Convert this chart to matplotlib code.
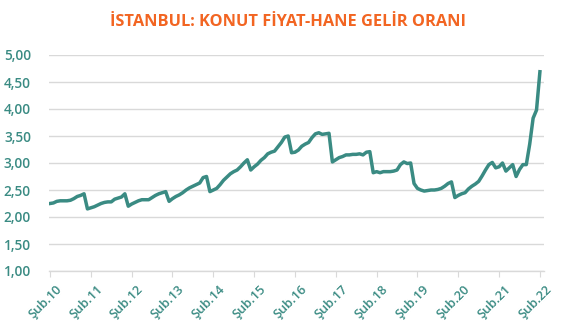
import matplotlib
matplotlib.use("Agg")
import matplotlib.pyplot as plt
import matplotlib.transforms as mtrans
from matplotlib.ticker import FuncFormatter

# Monthly ratio, Şub.2010 .. Şub.2022
ratio = [
    2.25, 2.26, 2.29, 2.30, 2.30, 2.30, 2.31, 2.34, 2.38, 2.40, 2.43,          # 2010 Feb-Dec
    2.15, 2.17, 2.19, 2.22, 2.25, 2.27, 2.28, 2.28, 2.33, 2.35, 2.37, 2.43,    # 2011
    2.20, 2.24, 2.27, 2.30, 2.32, 2.32, 2.32, 2.36, 2.40, 2.43, 2.45, 2.47,    # 2012
    2.29, 2.34, 2.38, 2.41, 2.45, 2.50, 2.54, 2.57, 2.60, 2.63, 2.73, 2.75,    # 2013
    2.47, 2.50, 2.53, 2.60, 2.68, 2.74, 2.80, 2.84, 2.87, 2.93, 3.00, 3.06,    # 2014
    2.87, 2.93, 2.98, 3.05, 3.10, 3.17, 3.20, 3.22, 3.30, 3.38, 3.48, 3.50,    # 2015
    3.19, 3.20, 3.24, 3.31, 3.35, 3.38, 3.47, 3.54, 3.56, 3.53, 3.54, 3.55,    # 2016
    3.02, 3.06, 3.10, 3.12, 3.15, 3.15, 3.16, 3.16, 3.17, 3.15, 3.20, 3.21,    # 2017
    2.82, 2.84, 2.82, 2.84, 2.84, 2.84, 2.85, 2.87, 2.97, 3.02, 2.99, 3.00,    # 2018
    2.62, 2.53, 2.50, 2.48, 2.49, 2.50, 2.50, 2.51, 2.53, 2.57, 2.62, 2.65,    # 2019
    2.36, 2.40, 2.43, 2.45, 2.52, 2.57, 2.61, 2.66, 2.76, 2.87, 2.97, 3.01,    # 2020
    2.91, 2.93, 3.00, 2.85, 2.91, 2.97, 2.75, 2.88, 2.97, 2.97, 3.35, 3.83,    # 2021
    3.98, 4.69,                                                                # 2022 Jan-Feb
]
tick_labels = ["Şub.10", "Şub.11", "Şub.12", "Şub.13", "Şub.14", "Şub.15", "Şub.16",
               "Şub.17", "Şub.18", "Şub.19", "Şub.20", "Şub.21", "Şub.22"]
y_ticks = [1.0, 1.5, 2.0, 2.5, 3.0, 3.5, 4.0, 4.5, 5.0]
title = "İSTANBUL: KONUT FİYAT-HANE GELİR ORANI"

teal = "#3A8B83"
orange = "#F26522"
plt.rcParams['font.family'] = ['Open Sans', 'DejaVu Sans']

fig = plt.figure(figsize=(5.70, 3.32), dpi=100)
ax = fig.add_axes([49/570, 61/332, 495/570, 216/332])

x = list(range(len(ratio)))
ax.plot(x, ratio, color=teal, lw=2.5, solid_joinstyle='round', zorder=3)

ax.set_ylim(1.0, 5.0)
ax.set_xlim(-0.3, 145.2)
ax.set_yticks(y_ticks)
ax.yaxis.set_major_formatter(FuncFormatter(lambda v, p: f"{v:.2f}".replace(".", ",")))
ax.grid(axis='y', color='#D9D9D9', lw=1.0, zorder=0)
ax.set_axisbelow(True)

ax.set_xticks([12 * i for i in range(len(tick_labels))])
ax.set_xticklabels(tick_labels, rotation=45, ha='right', rotation_mode='anchor')

for s in ['top', 'right', 'left']:
    ax.spines[s].set_visible(False)
ax.spines['bottom'].set_color('#D9D9D9')
ax.spines['bottom'].set_linewidth(1.0)

ax.tick_params(axis='y', length=0, pad=13, labelsize=9.8, labelcolor=teal)
ax.tick_params(axis='x', length=4, color='#D9D9D9', pad=3, labelsize=9.2, labelcolor=teal)
for lbl in ax.get_xticklabels() + ax.get_yticklabels():
    lbl.set_fontweight('semibold')
shift = mtrans.ScaledTranslation(5/100, -2/100, fig.dpi_scale_trans)
for lbl in ax.get_xticklabels():
    lbl.set_transform(lbl.get_transform() + shift)

fig.text(0.5045, 1 - 22/332, title, ha='center', va='center', color=orange,
         fontsize=11.8, fontweight='bold')

fig.savefig("out.png", dpi=100)
